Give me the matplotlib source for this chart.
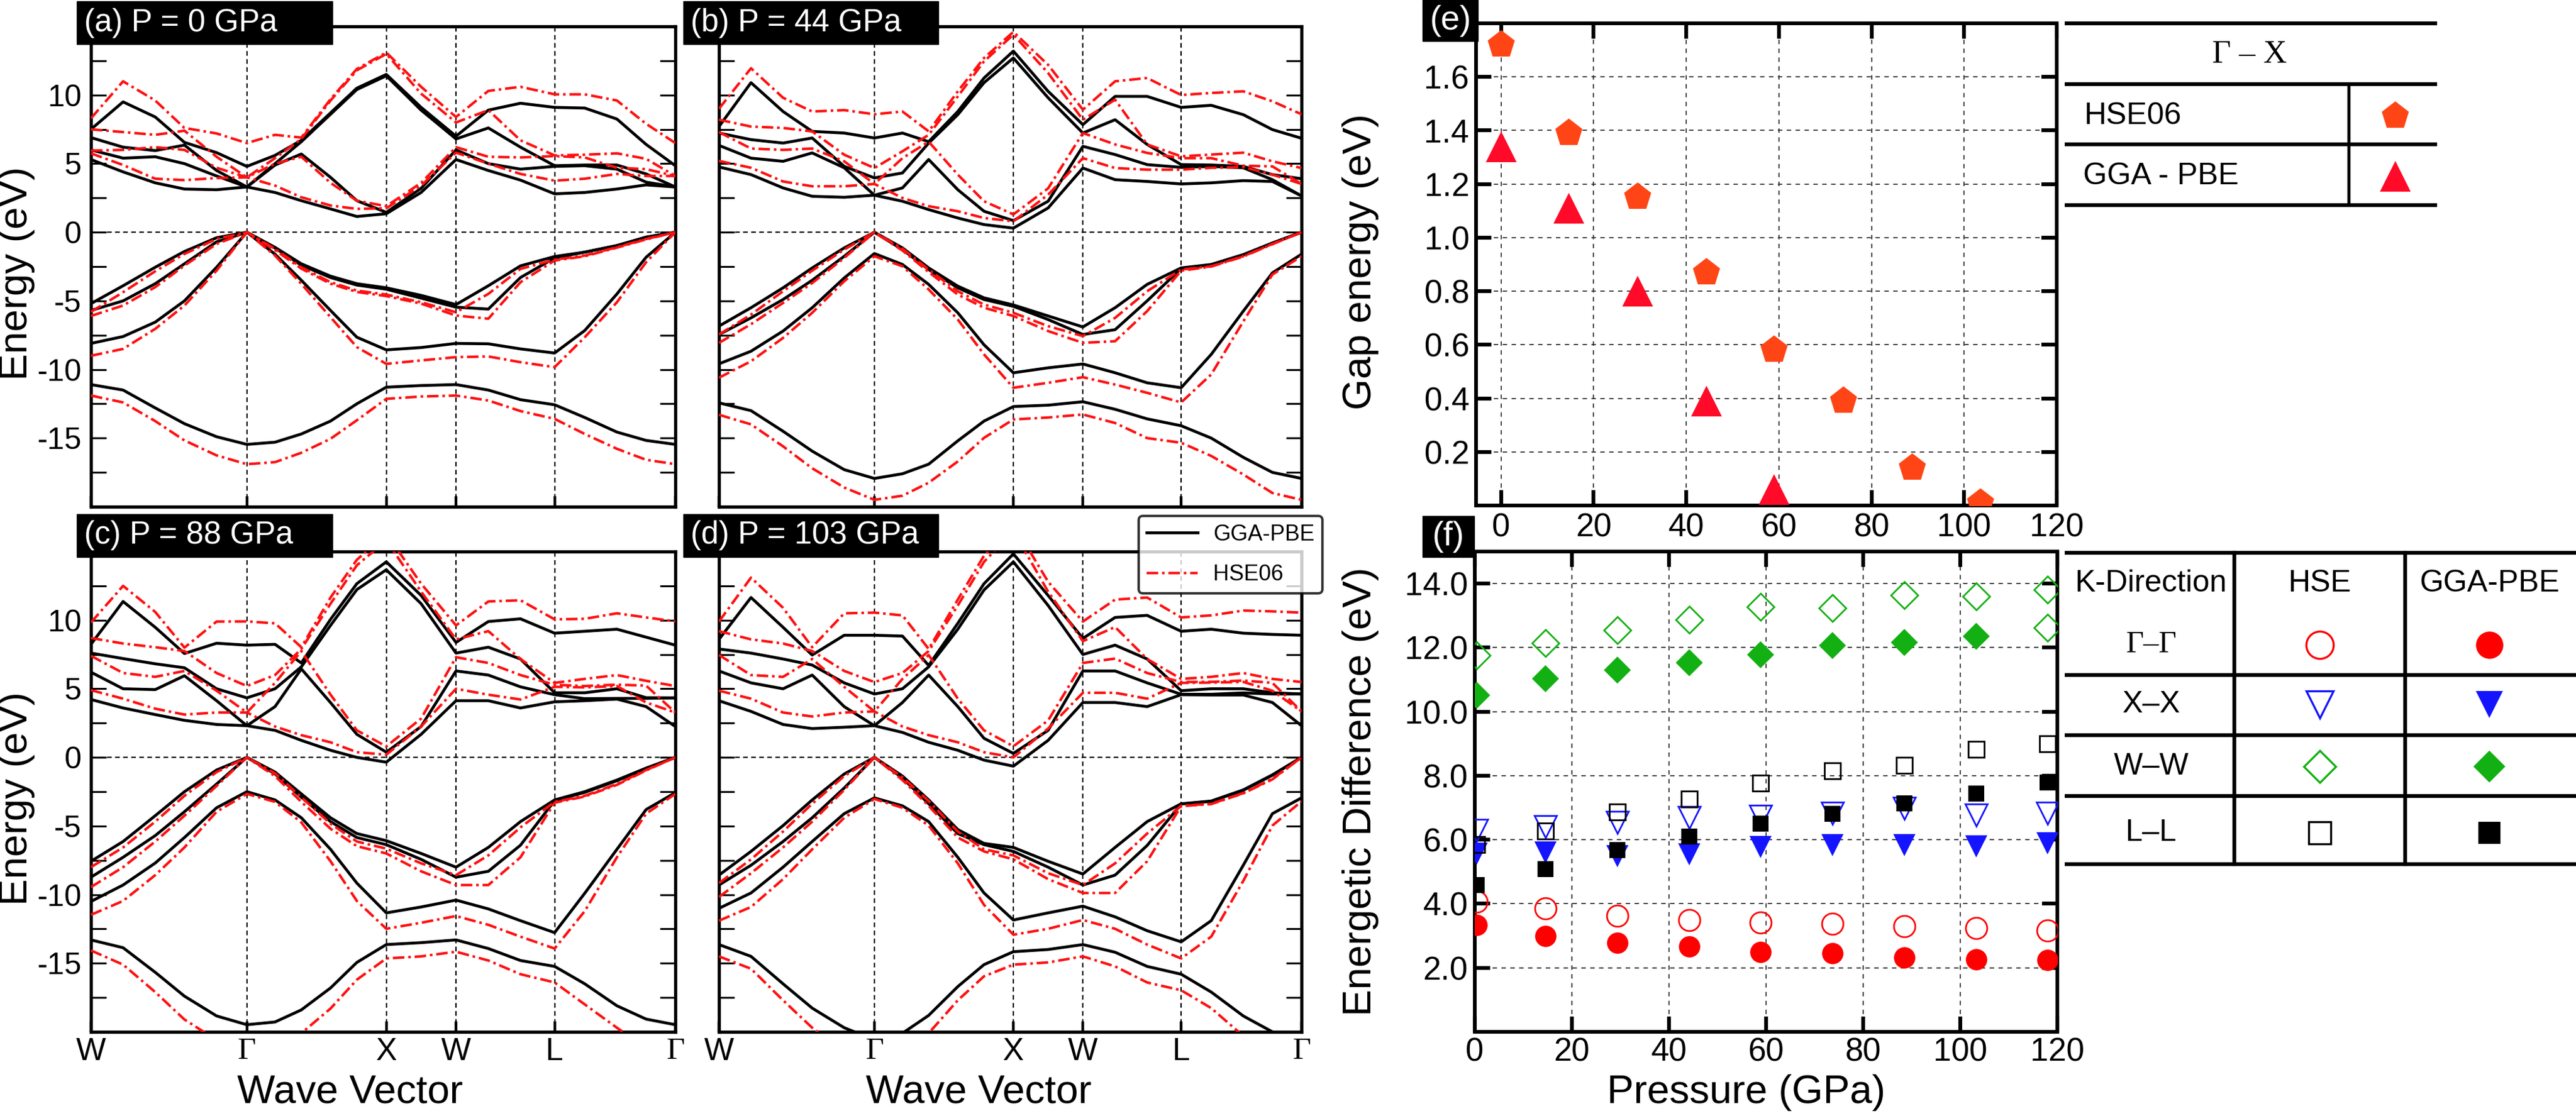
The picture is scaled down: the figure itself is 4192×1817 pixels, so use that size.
import matplotlib
matplotlib.use('Agg')
import numpy as np
import matplotlib.pyplot as plt
from matplotlib.patches import Rectangle
from matplotlib.lines import Line2D

plt.rcParams['font.family'] = ['Liberation Sans', 'DejaVu Sans']
plt.rcParams['axes.unicode_minus'] = False

# ---------------- dados ----------------
# caminho W-Γ-X-W-L-Γ (fração do caminho)
k_nodes = [0.0, 0.2668, 0.5054, 0.6247, 0.7934, 1.0]
k_names = ['W', 'Γ', 'X', 'W', 'L', 'Γ']
k_path = [0.0, 0.055, 0.11, 0.16, 0.215, 0.2668, 0.315, 0.36, 0.41, 0.455,
          0.5054, 0.565, 0.6247, 0.68, 0.735, 0.7934, 0.845, 0.9, 0.95, 1.0]

# (a) P = 0 GPa
bands_a_gga = [
    [-11.1, -11.5, -12.8, -13.95, -14.9, -15.46, -15.3, -14.7, -13.76, -12.5, -11.29, -11.17, -11.1, -11.5, -12.2, -12.57, -13.5, -14.56, -15.17, -15.46],
    [-8.1, -7.6, -6.55, -5.0, -2.55, 0, -1.6, -3.5, -5.7, -7.65, -8.57, -8.4, -8.1, -8.13, -8.5, -8.8, -7.16, -4.5, -1.82, 0],
    [-5.7, -5.0, -3.75, -2.3, -0.7, 0, -1.15, -2.4, -3.3, -3.85, -4.15, -4.8, -5.46, -5.6, -3.3, -1.87, -1.45, -0.97, -0.36, 0],
    [-5.2, -3.9, -2.55, -1.4, -0.4, 0, -1.1, -2.3, -3.2, -3.75, -4.05, -4.6, -5.27, -3.9, -2.45, -1.77, -1.45, -0.97, -0.36, 0],
    [5.3, 4.4, 3.6, 3.15, 3.1, 3.3, 2.9, 2.3, 1.7, 1.15, 1.35, 2.9, 5.3, 4.5, 3.8, 2.8, 2.9, 3.15, 3.45, 3.3],
    [6.0, 5.4, 5.5, 5.0, 4.1, 3.3, 4.9, 5.7, 4.0, 2.3, 1.45, 3.2, 6.0, 5.0, 4.6, 4.8, 4.85, 4.6, 3.65, 3.3],
    [6.9, 6.2, 5.95, 6.35, 4.5, 3.3, 5.0, 6.6, 8.6, 10.4, 11.4, 8.9, 6.8, 7.6, 6.2, 4.85, 4.9, 4.9, 4.25, 3.3],
    [7.5, 9.5, 8.4, 6.55, 5.8, 4.8, 5.6, 6.7, 8.7, 10.5, 11.5, 9.1, 7.0, 8.9, 9.4, 9.1, 9.05, 8.25, 6.4, 4.85],
]
bands_a_hse = [
    [-11.9, -12.4, -13.76, -15.17, -16.26, -16.9, -16.75, -16.07, -15.05, -13.7, -12.14, -11.97, -11.9, -12.26, -13.03, -13.6, -14.7, -15.78, -16.58, -16.9],
    [-9.0, -8.5, -7.04, -5.34, -2.79, 0, -1.7, -3.76, -6.19, -8.37, -9.59, -9.34, -9.1, -9.05, -9.47, -9.83, -7.65, -5.1, -2.18, 0],
    [-6.1, -5.34, -4.0, -2.43, -0.85, 0, -1.3, -2.65, -3.75, -4.35, -4.65, -5.2, -6.07, -6.3, -3.64, -2.06, -1.75, -1.12, -0.52, 0],
    [-5.8, -4.37, -2.84, -1.58, -0.49, 0, -1.21, -2.55, -3.64, -4.25, -4.54, -5.1, -5.83, -4.49, -2.67, -2.0, -1.7, -1.09, -0.49, 0],
    [5.75, 4.9, 3.9, 3.8, 3.95, 4.0, 3.4, 2.55, 1.95, 1.7, 1.75, 3.4, 5.8, 5.0, 4.25, 3.76, 3.9, 4.25, 4.1, 4.1],
    [5.95, 6.0, 6.2, 6.0, 4.7, 4.0, 5.0, 5.5, 3.6, 2.3, 1.9, 3.6, 6.2, 5.5, 5.45, 5.55, 5.45, 4.7, 4.6, 4.1],
    [7.5, 7.3, 7.1, 7.4, 5.5, 4.0, 5.4, 6.8, 9.6, 11.8, 13.0, 10.1, 8.0, 8.9, 6.7, 5.6, 5.65, 5.75, 5.35, 4.1],
    [8.3, 11.0, 9.6, 7.6, 7.2, 6.5, 7.1, 6.9, 9.7, 11.9, 13.1, 10.6, 8.4, 10.3, 10.6, 10.05, 10.05, 9.6, 7.9, 6.5],
]

# (b) P = 44 GPa
bands_b_gga = [
    [-12.43, -13.0, -14.5, -15.95, -17.3, -17.94, -17.6, -16.9, -15.2, -13.76, -12.7, -12.6, -12.35, -12.9, -13.6, -14.1, -15.0, -16.4, -17.5, -17.94],
    [-9.59, -8.67, -7.2, -5.5, -3.33, -1.55, -2.35, -3.8, -5.87, -8.2, -10.24, -9.88, -9.6, -10.24, -10.97, -11.33, -8.9, -5.75, -2.96, -1.6],
    [-7.45, -6.24, -4.9, -3.5, -1.75, 0, -1.26, -2.72, -4.05, -4.9, -5.4, -6.36, -7.45, -7.1, -5.0, -2.65, -2.37, -1.65, -0.8, 0],
    [-6.84, -5.5, -4.05, -2.6, -1.14, 0, -1.14, -2.6, -3.93, -4.78, -5.3, -6.1, -6.9, -5.5, -3.8, -2.6, -2.35, -1.63, -0.78, 0],
    [4.76, 4.2, 3.23, 2.62, 2.55, 2.7, 2.26, 1.65, 1.04, 0.56, 0.3, 1.77, 4.68, 3.83, 3.7, 3.52, 3.6, 3.76, 3.7, 2.65],
    [6.33, 5.4, 5.17, 5.78, 4.7, 2.7, 3.23, 5.3, 3.1, 1.53, 0.85, 2.26, 6.26, 5.66, 4.93, 4.73, 4.8, 4.7, 3.83, 2.65],
    [7.23, 6.75, 6.5, 6.87, 4.8, 3.96, 4.32, 6.5, 8.57, 10.9, 12.7, 9.8, 7.23, 8.2, 6.4, 4.93, 4.9, 4.8, 4.2, 3.9],
    [7.7, 10.9, 8.8, 7.35, 7.23, 6.87, 7.23, 6.6, 8.8, 11.24, 13.2, 10.27, 7.84, 9.9, 9.9, 9.1, 9.25, 8.57, 7.48, 6.85],
]
bands_b_hse = [
    [-13.3, -14.0, -15.6, -17.2, -18.6, -19.5, -19.2, -18.25, -16.7, -14.98, -13.64, -13.5, -13.28, -13.9, -15.0, -15.34, -16.3, -17.65, -19.0, -19.5],
    [-10.6, -9.4, -7.7, -5.87, -3.57, -1.75, -2.48, -4.17, -6.36, -8.9, -11.33, -10.97, -10.56, -11.1, -11.7, -12.4, -10.36, -6.5, -3.08, -1.75],
    [-8.06, -6.7, -5.15, -3.7, -1.87, 0, -1.33, -2.9, -4.54, -5.5, -6.1, -7.2, -8.06, -7.94, -5.75, -2.8, -2.5, -1.77, -0.87, 0],
    [-7.45, -6.0, -4.3, -2.8, -1.26, 0, -1.2, -2.72, -4.3, -5.27, -5.87, -6.84, -7.57, -6.24, -4.3, -2.72, -2.48, -1.75, -0.85, 0],
    [5.2, 4.7, 3.7, 3.35, 3.35, 3.52, 2.5, 1.9, 1.53, 1.04, 0.8, 2.74, 5.4, 4.68, 4.56, 4.56, 4.7, 4.75, 4.2, 3.52],
    [7.3, 6.1, 6.0, 6.1, 5.17, 3.52, 5.4, 6.6, 4.2, 2.26, 1.3, 3.2, 7.23, 6.4, 5.78, 5.4, 5.4, 4.85, 4.8, 3.52],
    [8.2, 7.7, 7.6, 7.35, 5.65, 4.68, 5.9, 7.1, 9.9, 12.45, 14.4, 11.6, 8.2, 9.66, 6.4, 5.53, 5.66, 5.8, 5.17, 4.68],
    [9.0, 11.95, 9.8, 8.8, 8.9, 8.6, 8.8, 7.35, 10.27, 12.7, 14.6, 12.2, 8.93, 11.0, 11.24, 10.0, 10.15, 10.27, 9.54, 8.6],
]

# (c) P = 88 GPa
bands_c_gga = [
    [-13.3, -13.87, -15.66, -17.4, -18.84, -19.48, -19.28, -18.4, -16.8, -14.94, -13.64, -13.5, -13.3, -13.93, -14.8, -15.23, -16.5, -18.1, -19.07, -19.48],
    [-10.5, -9.3, -7.7, -5.84, -3.67, -2.5, -3.1, -4.4, -6.7, -9.16, -11.33, -10.9, -10.4, -11.04, -11.9, -12.77, -9.9, -6.7, -3.8, -2.57],
    [-8.73, -7.28, -5.7, -3.96, -1.94, 0, -1.2, -2.9, -4.68, -5.84, -6.36, -7.43, -8.73, -8.3, -6.4, -3.15, -2.55, -1.7, -0.82, 0],
    [-7.57, -6.13, -4.25, -2.5, -0.92, 0, -1.07, -2.66, -4.4, -5.55, -6.07, -7.0, -8.0, -6.56, -4.68, -3.1, -2.5, -1.65, -0.78, 0],
    [4.22, 3.6, 3.12, 2.7, 2.4, 2.31, 1.97, 1.24, 0.52, 0.0, -0.35, 1.68, 4.13, 4.13, 3.6, 4.05, 4.13, 4.25, 3.7, 2.25],
    [6.21, 5.0, 4.94, 5.95, 4.13, 2.31, 3.7, 6.45, 3.99, 1.68, 0.38, 2.25, 6.3, 6.0, 5.14, 4.57, 4.28, 4.3, 4.3, 4.34],
    [7.6, 7.2, 6.82, 6.53, 5.0, 4.34, 5.0, 6.6, 9.62, 12.23, 13.67, 11.2, 7.6, 8.03, 7.17, 4.71, 4.71, 5.0, 4.35, 4.34],
    [8.24, 11.36, 9.48, 7.57, 8.32, 8.18, 8.24, 6.88, 10.06, 12.66, 14.25, 11.8, 8.38, 9.9, 10.1, 9.05, 9.19, 9.34, 8.76, 8.18],
]
bands_c_hse = [
    [-14.07, -15.1, -17.1, -19.1, -20.6, -21.7, -21.4, -20.1, -18.3, -16.2, -14.65, -14.5, -14.16, -14.8, -15.8, -16.4, -18.0, -19.7, -21.2, -21.7],
    [-11.47, -10.46, -8.58, -6.56, -3.96, -2.66, -3.24, -4.74, -7.57, -10.46, -12.49, -12.05, -11.56, -12.2, -13.06, -13.93, -11.2, -7.28, -4.1, -2.66],
    [-9.45, -8.0, -6.13, -4.25, -2.08, 0, -1.36, -3.24, -5.2, -6.47, -7.0, -8.3, -9.3, -9.3, -7.28, -3.3, -2.85, -2.0, -0.95, 0],
    [-8.0, -6.56, -4.68, -2.8, -1.07, 0, -1.16, -2.9, -4.83, -6.13, -6.65, -7.72, -8.58, -7.14, -5.1, -3.24, -2.8, -1.94, -0.92, 0],
    [4.9, 4.28, 3.55, 3.12, 3.27, 3.27, 2.25, 1.62, 1.1, 0.38, 0.2, 2.25, 5.0, 4.57, 4.22, 5.14, 5.1, 5.2, 4.0, 3.27],
    [7.4, 6.15, 5.87, 6.3, 4.86, 3.27, 5.43, 7.75, 4.57, 1.97, 0.8, 2.83, 7.3, 6.88, 6.0, 5.29, 5.2, 5.3, 5.23, 3.27],
    [8.7, 8.3, 8.03, 7.75, 6.15, 5.2, 6.0, 7.9, 11.2, 14.0, 15.8, 12.08, 8.6, 9.2, 7.17, 5.43, 5.72, 6.0, 5.58, 5.2],
    [9.83, 12.5, 10.6, 8.0, 9.9, 9.91, 9.77, 8.03, 11.65, 14.4, 16.3, 12.66, 9.62, 11.36, 11.45, 10.06, 10.1, 10.5, 10.2, 9.91],
]

# (d) P = 103 GPa
bands_d_gga = [
    [-13.64, -14.5, -16.5, -18.27, -19.7, -20.58, -20.1, -18.8, -16.7, -15.1, -14.16, -14.0, -13.64, -14.2, -15.23, -15.8, -17.1, -18.84, -20.0, -20.58],
    [-11.0, -9.88, -8.0, -6.13, -4.1, -2.95, -3.53, -4.68, -7.28, -9.88, -11.85, -11.33, -10.84, -11.62, -12.63, -13.44, -11.9, -7.86, -4.1, -2.95],
    [-9.3, -7.86, -6.13, -4.4, -2.23, 0, -1.5, -3.38, -5.55, -6.36, -6.85, -8.0, -9.3, -8.58, -6.42, -3.4, -3.2, -2.4, -1.3, 0],
    [-8.58, -6.85, -4.97, -3.1, -1.21, 0, -1.36, -3.1, -5.26, -6.27, -6.56, -7.57, -8.5, -6.56, -4.68, -3.38, -3.18, -2.37, -1.27, 0],
    [4.13, 3.35, 2.4, 2.1, 2.2, 2.31, 1.82, 1.1, 0.52, -0.2, -0.64, 1.24, 4.0, 4.0, 3.7, 4.57, 4.55, 4.55, 4.0, 2.31],
    [6.3, 5.43, 5.0, 6.0, 3.7, 2.31, 4.0, 6.0, 3.7, 1.39, 0.29, 1.97, 6.3, 6.3, 5.43, 4.6, 4.6, 4.7, 4.62, 4.62],
    [7.9, 7.6, 7.17, 6.73, 5.43, 4.62, 5.0, 6.6, 9.34, 12.2, 14.25, 11.07, 7.5, 8.18, 7.17, 4.86, 5.0, 5.0, 4.71, 4.62],
    [8.6, 11.65, 9.48, 7.46, 8.9, 8.9, 8.84, 6.7, 9.77, 12.66, 14.83, 11.8, 8.67, 10.2, 10.35, 9.19, 9.34, 9.05, 8.96, 8.9],
]
bands_d_hse = [
    [-14.5, -15.4, -17.7, -19.7, -21.5, -22.3, -22.0, -20.1, -17.7, -15.95, -15.1, -14.94, -14.5, -15.23, -16.4, -16.97, -18.27, -20.3, -21.8, -22.3],
    [-11.9, -10.9, -8.87, -6.7, -4.4, -3.03, -3.67, -4.97, -7.72, -10.75, -12.92, -12.49, -11.85, -12.49, -13.64, -14.65, -13.06, -9.0, -4.97, -3.2],
    [-10.17, -8.44, -6.56, -4.68, -2.37, 0, -1.65, -3.53, -5.84, -6.85, -7.43, -8.87, -9.88, -9.88, -7.57, -3.55, -3.4, -2.62, -1.6, 0],
    [-9.16, -7.43, -5.4, -3.38, -1.36, 0, -1.45, -3.18, -5.4, -6.7, -7.14, -8.44, -9.3, -7.72, -5.55, -3.53, -3.38, -2.6, -1.56, 0],
    [4.86, 4.28, 3.27, 2.98, 3.27, 3.35, 2.25, 1.62, 1.1, 0.38, 0.0, 2.1, 4.71, 4.71, 4.28, 5.43, 5.45, 5.5, 4.86, 3.35],
    [7.46, 6.0, 5.87, 7.17, 5.14, 3.35, 5.72, 7.46, 4.28, 1.97, 0.81, 2.69, 6.88, 7.2, 6.15, 5.49, 5.5, 5.6, 5.43, 3.35],
    [9.2, 8.6, 8.3, 7.75, 6.3, 5.49, 6.15, 7.75, 11.07, 14.25, 16.5, 12.08, 8.47, 9.5, 7.17, 5.72, 5.87, 6.15, 5.72, 5.49],
    [9.9, 13.1, 10.9, 8.03, 10.5, 10.55, 10.35, 7.9, 11.5, 14.7, 17.0, 12.8, 9.9, 11.5, 11.65, 10.2, 10.35, 10.7, 10.64, 10.55],
]

# (e) gap Γ-X
gap_pressure = [0, 14.7, 29.5, 44.3, 59.0, 74.0, 88.8, 103.5]
gap_hse = [1.72, 1.39, 1.15, 0.87, 0.58, 0.39, 0.14, 0.01]
gap_gga = [1.34, 1.11, 0.80, 0.39, 0.06]

# (f) diferenças de energia por ponto k
diff_pressure = [0.4, 14.6, 29.4, 44.2, 58.9, 73.7, 88.5, 103.3, 118.0]
gg_hse = [4.07, 3.85, 3.63, 3.49, 3.41, 3.38, 3.30, 3.24, 3.16]
gg_gga = [3.34, 3.00, 2.79, 2.67, 2.49, 2.45, 2.33, 2.27, 2.25]
xx_hse = [6.30, 6.40, 6.55, 6.70, 6.74, 6.83, 6.99, 6.77, 6.83]
xx_gga = [5.57, 5.61, 5.49, 5.55, 5.77, 5.83, 5.83, 5.80, 5.88]
ww_hse = [11.75, 12.14, 12.54, 12.87, 13.27, 13.23, 13.63, 13.60, 13.82]
ww_gga = [10.51, 11.02, 11.29, 11.53, 11.78, 12.06, 12.17, 12.36, 12.62]
ll_hse = [5.85, 6.28, 6.86, 7.27, 7.77, 8.15, 8.33, 8.83, 8.99]
ll_gga = [4.58, 5.09, 5.67, 6.10, 6.50, 6.80, 7.13, 7.45, 7.79]

# ---------------- figura ----------------
W, H = 4192, 1817
fig = plt.figure(figsize=(W / 100, H / 100), dpi=100)


def px_box(x0, y0, x1, y1):
    # retângulo em pixels -> fração da figura
    return [x0 / W, 1 - y1 / H, (x1 - x0) / W, (y1 - y0) / H]


HSE_LS = (0, (4.5, 1.5, 1.0, 1.5))


def band_panel(rect, gga, hse, xlabels, ylabels):
    ax = fig.add_axes(rect)
    for k in k_nodes[1:-1]:
        ax.axvline(k, color='black', lw=1.6, ls=(0, (3.4, 2.5)), zorder=1)
    ax.axhline(0, color='black', lw=1.6, ls=(0, (3.4, 2.5)), zorder=1)
    for b in gga:
        ax.plot(k_path, b, color='black', lw=3.4, zorder=3)
    for b in hse:
        ax.plot(k_path, b, color='#ff1010', lw=3.0, ls=HSE_LS, zorder=4)
    ax.set_xlim(0, 1)
    ax.set_ylim(-20, 15)
    ax.set_yticks([-15, -10, -5, 0, 5, 10])
    ax.set_yticks(np.arange(-17.5, 15, 5), minor=True)
    ax.tick_params(axis='y', which='both', direction='in', left=True, right=True,
                   length=18, width=2.2, labelsize=36, pad=11)
    ax.set_xticks(k_nodes)
    ax.tick_params(axis='x', direction='in', length=12, width=3.2, labelsize=37, pad=6)
    if xlabels:
        ax.set_xticklabels(k_names)
        for lab in ax.get_xticklabels():
            if lab.get_text() == 'Γ':
                lab.set_fontfamily('Liberation Serif')
    else:
        ax.set_xticklabels([])
    if not ylabels:
        ax.set_yticklabels([])
    for s in ax.spines.values():
        s.set_linewidth(3.8)
    return ax


ax_a = band_panel(px_box(148, 43, 1099, 825), bands_a_gga, bands_a_hse, False, True)
ax_b = band_panel(px_box(1170, 43, 2118, 825), bands_b_gga, bands_b_hse, False, False)
ax_c = band_panel(px_box(148, 898, 1099, 1680), bands_c_gga, bands_c_hse, True, True)
ax_d = band_panel(px_box(1170, 898, 2118, 1680), bands_d_gga, bands_d_hse, True, False)

leg = ax_d.legend([Line2D([], [], color='black', lw=3.4),
                   Line2D([], [], color='#ff1010', lw=3.0, ls=HSE_LS)],
                  ['GGA-PBE', 'HSE06'], loc='upper right',
                  bbox_to_anchor=(2152 / W, 1 - 840 / H), bbox_transform=fig.transFigure,
                  fontsize=26, frameon=True, fancybox=True, handlelength=2.3,
                  handletextpad=0.7, borderpad=0.35, labelspacing=0.85, borderaxespad=0)
leg.get_frame().set_edgecolor('black')
leg.get_frame().set_linewidth(2.8)
leg.set_zorder(20)


def scatter_panel(rect):
    ax = fig.add_axes(rect)
    ax.grid(True, color='#333333', lw=1.3, ls=(0, (4, 4)), zorder=0)
    ax.set_axisbelow(True)
    ax.tick_params(which='both', direction='in', top=True, bottom=True, left=True, right=True,
                   length=18, width=4.5, labelsize=38)
    for s in ax.spines.values():
        s.set_linewidth(4.3)
    return ax


# (e)
ax_e = scatter_panel(px_box(2402, 38, 3347, 823))
ax_e.plot(gap_pressure, gap_hse, ls='none', marker='p', ms=34, color='#ff4515', mew=0, zorder=3)
ax_e.plot(gap_pressure[:len(gap_gga)], gap_gga, ls='none', marker='^', ms=36, color='#ff0a28', mew=0, zorder=3)
ax_e.set_xlim(-5.4, 120)
ax_e.set_ylim(0, 1.8)
ax_e.set_xticks([0, 20, 40, 60, 80, 100, 120])
ax_e.set_yticks([0.2, 0.4, 0.6, 0.8, 1.0, 1.2, 1.4, 1.6])
ax_e.set_yticklabels(['%.1f' % v for v in [0.2, 0.4, 0.6, 0.8, 1.0, 1.2, 1.4, 1.6]])
ax_e.tick_params(axis='y', pad=8)
ax_e.tick_params(axis='x', pad=8)

# (f)
ax_f = scatter_panel(px_box(2400, 898, 3348, 1680))
open_kw = dict(ls='none', mfc='none', mew=2.0, zorder=3)
fill_kw = dict(ls='none', mew=0, zorder=3)
ax_f.plot(diff_pressure, gg_hse, marker='o', ms=25, mec='#ff0000', **open_kw)
ax_f.plot(diff_pressure, gg_gga, marker='o', ms=25, color='#ff0000', **fill_kw)
ax_f.plot(diff_pressure, xx_hse, marker='v', ms=26, mec='#1414ff', **open_kw)
ax_f.plot(diff_pressure, xx_gga, marker='v', ms=26, color='#1414ff', **fill_kw)
ax_f.plot(diff_pressure, ww_hse, marker='D', ms=22, mec='#12b012', **open_kw)
ax_f.plot(diff_pressure[:-1], ww_gga[:-1], marker='D', ms=22, color='#12b012', **fill_kw)
ax_f.plot(diff_pressure[-1:], ww_gga[-1:], marker='D', ms=22, mec='#12b012', **open_kw)
ax_f.plot(diff_pressure, ll_hse, marker='s', ms=19, mec='black', **open_kw)
ax_f.plot(diff_pressure, ll_gga, marker='s', ms=19, color='black', **fill_kw)
ax_f.set_xlim(0, 120)
ax_f.set_ylim(0, 15)
ax_f.set_xticks([0, 20, 40, 60, 80, 100, 120])
ax_f.set_yticks([2, 4, 6, 8, 10, 12, 14])
ax_f.set_yticklabels(['%.1f' % v for v in [2, 4, 6, 8, 10, 12, 14]])
ax_f.tick_params(axis='y', pad=8)
ax_f.tick_params(axis='x', pad=6)

# ---------------- rótulos, caixas e tabelas ----------------
ov = fig.add_axes([0, 0, 1, 1], zorder=10)
ov.set_xlim(0, W)
ov.set_ylim(H, 0)
ov.axis('off')

for (x0, y0, w, h), txt, tx, fs in [((125, 2, 416, 70), '(a) P = 0 GPa', 137, 37),
                                    ((1112, 2, 415, 70), '(b) P = 44 GPa', 1124, 37),
                                    ((125, 837, 416, 70), '(c) P = 88 GPa', 137, 37),
                                    ((1112, 837, 415, 70), '(d) P = 103 GPa', 1124, 37)]:
    ov.add_patch(Rectangle((x0, y0), w, h, color='black', zorder=5))
    ov.text(tx, y0 + h / 2, txt, color='white', fontsize=fs, ha='left', va='center', zorder=6)
ov.add_patch(Rectangle((2315, 0), 90, 67, color='black', zorder=5))
ov.text(2360, 34, '(e)', color='white', fontsize=40, ha='center', va='center', zorder=6)
ov.add_patch(Rectangle((2315, 840), 84, 67, color='black', zorder=5))
ov.text(2357, 874, '(f)', color='white', fontsize=40, ha='center', va='center', zorder=6)

lab_kw = dict(fontsize=47, ha='center', va='center')
ov.text(27, 445, 'Energy (eV)', rotation=90, **lab_kw)
ov.text(27, 1300, 'Energy (eV)', rotation=90, **lab_kw)
ov.text(570, 1779, 'Wave Vector', **lab_kw)
ov.text(1593, 1779, 'Wave Vector', **lab_kw)
ov.text(2214, 426, 'Gap energy (eV)', rotation=90, **lab_kw)
ov.text(2214, 1289, 'Energetic Difference (eV)', rotation=90, **lab_kw)
ov.text(2842, 1779, 'Pressure (GPa)', **lab_kw)

# tabela da legenda (e)
TLW = 4.5
for y in [38, 137, 235, 334]:
    ov.plot([3360, 3966], [y, y], color='black', lw=TLW, solid_capstyle='butt')
ov.plot([3822, 3822], [137, 334], color='black', lw=TLW * 0.8)
ov.text(3661, 89, 'Γ – X', fontsize=38, ha='center', va='center', family='Liberation Serif')
ov.text(3392, 189, 'HSE06', fontsize=36, ha='left', va='center')
ov.text(3390, 287, 'GGA - PBE', fontsize=36, ha='left', va='center')
ov.plot([3898], [189], marker='p', ms=34, color='#ff4515', mew=0)
ov.plot([3898], [287], marker='^', ms=36, color='#ff0a28', mew=0)

# tabela da legenda (f)
for y in [900, 1099, 1197, 1296, 1407]:
    ov.plot([3360, 4192], [y, y], color='black', lw=TLW, solid_capstyle='butt')
for x in [3636, 3914]:
    ov.plot([x, x], [900, 1407], color='black', lw=TLW)
ov.text(3501, 950, 'K-Direction', fontsize=36, ha='center', va='center')
ov.text(3775, 950, 'HSE', fontsize=36, ha='center', va='center')
ov.text(4051, 950, 'GGA-PBE', fontsize=36, ha='center', va='center')
ov.text(3501, 1050, 'Γ–Γ', fontsize=36, ha='center', va='center', family='Liberation Serif')
ov.text(3501, 1147, 'X–X', fontsize=36, ha='center', va='center')
ov.text(3501, 1248, 'W–W', fontsize=36, ha='center', va='center')
ov.text(3501, 1356, 'L–L', fontsize=36, ha='center', va='center')
rows = [(1050, 'o', '#ff0000', 32), (1147, 'v', '#1414ff', 32),
        (1248, 'D', '#12b012', 26), (1356, 's', 'black', 26)]
for y, m, c, ms in rows:
    ov.plot([3775], [y], marker=m, ms=ms, mfc='none', mec=c, mew=2.4)
    ov.plot([4051], [y], marker=m, ms=ms, color=c, mew=0)

fig.savefig('out.png', dpi=100)
